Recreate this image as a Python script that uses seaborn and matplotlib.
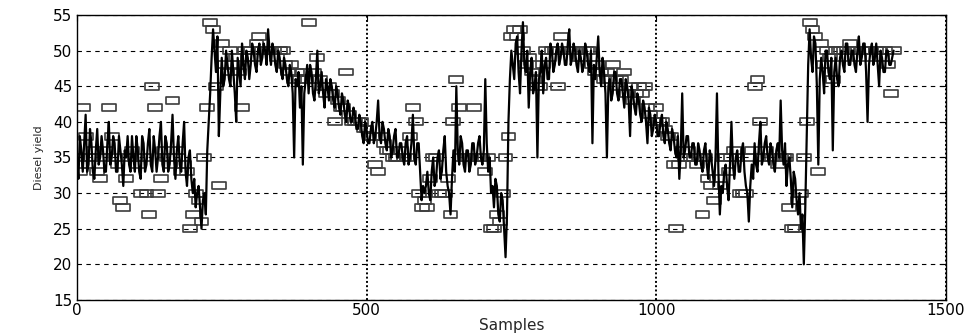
import numpy as np
import pandas as pd
import matplotlib
matplotlib.use("Agg")
import matplotlib.pyplot as plt
from matplotlib.path import Path
import seaborn as sns

# Sample step between the values
STEP = 5

# Continuous (model) diesel yield at samples 0, 5, 10, ...
line_values = [
    35, 38, 33, 41, 34, 37, 32, 39, 35, 36, 33, 40, 35, 37, 33, 36, 31, 35, 34, 38,
    33, 36, 32, 37, 34, 39, 33, 36, 35, 40, 33, 37, 34, 41, 32, 38, 33, 40, 31, 36,
    30, 28, 31, 25, 30, 36, 44, 53, 47, 38, 49, 46, 48, 45, 47, 40, 47, 51, 46, 49,
    48, 50, 47, 51, 49, 50, 53, 48, 50, 47, 49, 46, 48, 45, 47, 35, 45, 42, 34, 46,
    44, 47, 43, 50, 45, 44, 46, 43, 45, 42, 44, 41, 43, 40, 42, 40, 41, 39, 40, 37,
    39, 37, 40, 38, 43, 37, 39, 36, 38, 36, 39, 35, 37, 34, 38, 35, 41, 34, 37, 29,
    30, 33, 29, 35, 32, 36, 33, 38, 31, 27, 36, 45, 34, 37, 33, 36, 34, 37, 35, 38,
    34, 46, 33, 30, 28, 31, 26, 29, 21, 40, 50, 46, 52, 44, 54, 47, 42, 49, 45, 35,
    47, 44, 49, 46, 50, 48, 51, 49, 50, 48, 53, 49, 50, 47, 49, 48, 50, 47, 37, 46,
    52, 45, 47, 35, 46, 44, 47, 43, 46, 42, 45, 38, 44, 41, 43, 40, 42, 37, 41, 39,
    40, 38, 41, 37, 39, 36, 38, 35, 32, 44, 36, 38, 35, 37, 34, 36, 33, 37, 32, 35,
    31, 44, 27, 30, 34, 29, 40, 32, 36, 33, 37, 31, 26, 34, 37, 33, 40, 35, 38, 34,
    36, 33, 37, 43, 34, 31, 35, 28, 32, 27, 25, 20, 38, 53, 47, 51, 34, 49, 44, 50,
    46, 36, 49, 45, 50, 47, 51, 48, 50, 47, 52, 49, 51, 40, 50, 48, 51, 45, 49, 47,
    50, 48, 50,
]

# Same series at the in-between samples 2.5, 7.5, 12.5, ...
line_values_mid = [
    32, 36, 37, 33, 39, 33, 36, 34, 38, 33, 37, 34, 38, 33, 38, 34, 36, 38, 33, 35,
    38, 33, 38, 33, 37, 34, 38, 33, 38, 34, 38, 33, 37, 35, 36, 34, 37, 33, 35, 32,
    32, 30, 28, 29, 27, 40, 49, 50, 52, 44, 45, 50, 46, 50, 44, 49, 45, 48, 50, 46,
    51, 48, 50, 48, 51, 48, 50, 51, 48, 50, 47, 49, 46, 48, 44, 46, 47, 45, 44, 48,
    48, 44, 46, 44, 47, 42, 45, 46, 43, 45, 42, 44, 41, 43, 40, 42, 39, 41, 38, 40,
    37, 39, 37, 40, 38, 40, 37, 39, 35, 38, 35, 37, 35, 37, 34, 37, 35, 37, 33, 31,
    31, 30, 33, 31, 35, 32, 36, 33, 30, 32, 33, 36, 38, 34, 36, 33, 37, 34, 37, 35,
    36, 37, 35, 31, 32, 27, 30, 25, 27, 46, 48, 51, 47, 50, 48, 50, 47, 44, 47, 46,
    50, 48, 46, 51, 47, 50, 48, 51, 48, 51, 48, 51, 48, 50, 47, 51, 48, 50, 48, 49,
    47, 49, 44, 45, 43, 47, 44, 46, 44, 46, 43, 45, 42, 44, 41, 43, 40, 42, 38, 41,
    38, 40, 38, 40, 37, 39, 36, 38, 36, 35, 38, 35, 37, 34, 37, 34, 36, 34, 36, 33,
    35, 33, 31, 33, 31, 34, 34, 35, 33, 36, 33, 30, 31, 32, 34, 37, 34, 37, 35, 37,
    34, 36, 35, 36, 37, 34, 32, 33, 29, 30, 27, 28, 48, 49, 52, 45, 46, 47, 50, 47,
    49, 47, 46, 49, 48, 51, 48, 50, 48, 50, 48, 51, 47, 48, 51, 49, 48, 50, 47, 50,
    48, 49,
]

# Measured (integer) diesel yield at samples 0, 5, 10, ...
marker_values = [
    35, 33, 42, 38, 34, 35, 36, 33, 32, 35, 36, 42, 38, 35, 34, 29, 28, 32, 35, 36,
    35, 34, 30, 35, 30, 27, 45, 42, 30, 32, 36, 35, 34, 43, 35, 36, 33, 34, 33, 25,
    27, 30, 29, 26, 35, 42, 54, 53, 45, 31, 51, 48, 47, 50, 48, 49, 47, 42, 50, 49,
    50, 49, 51, 52, 50, 50, 50, 50, 50, 49, 50, 50, 48, 47, 48, 46, 47, 46, 47, 46,
    54, 46, 47, 49, 46, 45, 44, 45, 44, 40, 43, 42, 42, 47, 41, 40, 40, 40, 40, 39,
    39, 38, 38, 34, 33, 38, 37, 36, 36, 35, 35, 35, 36, 35, 35, 38, 42, 40, 30, 28,
    29, 28, 32, 35, 35, 30, 30, 30, 32, 27, 40, 46, 42, 35, 35, 35, 35, 42, 35, 35,
    35, 33, 35, 25, 25, 27, 26, 30, 35, 38, 52, 53, 52, 53, 50, 48, 49, 47, 46, 45,
    45, 48, 50, 49, 50, 50, 45, 52, 50, 50, 50, 50, 50, 49, 49, 50, 50, 50, 48, 47,
    48, 47, 46, 47, 46, 48, 46, 45, 46, 47, 44, 45, 43, 44, 45, 44, 45, 42, 41, 40,
    42, 40, 40, 39, 38, 38, 34, 25, 34, 36, 35, 36, 35, 35, 34, 35, 27, 35, 32, 31,
    29, 32, 31, 35, 35, 33, 35, 36, 35, 30, 30, 30, 35, 36, 45, 46, 40, 35, 36, 35,
    35, 35, 34, 35, 35, 35, 28, 25, 25, 29, 30, 35, 40, 54, 53, 52, 33, 51, 48, 50,
    49, 46, 50, 50, 49, 50, 50, 51, 50, 50, 49, 50, 50, 50, 50, 49, 50, 50, 49, 50,
    48, 44, 50,
]

x_ticks = [0, 500, 1000, 1500]
y_ticks = [15, 20, 25, 30, 35, 40, 45, 50, 55]

line_df = pd.concat([
    pd.DataFrame({"Samples": np.arange(len(line_values)) * STEP,
                  "yield": line_values}),
    pd.DataFrame({"Samples": np.arange(len(line_values_mid)) * STEP + STEP / 2,
                  "yield": line_values_mid}),
]).sort_values("Samples")
marker_df = pd.DataFrame({"Samples": np.arange(len(marker_values)) * STEP,
                          "yield": marker_values})

sns.set_style("white")
plt.rcParams["font.family"] = ["DejaVu Sans"]

fig = plt.figure(figsize=(9.68, 3.34), dpi=100)
ax = fig.add_axes([0.0795, 0.102, 0.8975, 0.853])

# wide hollow rectangle marker
rect = Path([(-1, -0.5), (1, -0.5), (1, 0.5), (-1, 0.5), (-1, -0.5)],
            [Path.MOVETO, Path.LINETO, Path.LINETO, Path.LINETO, Path.CLOSEPOLY])

sns.scatterplot(data=marker_df, x="Samples", y="yield", ax=ax, marker=rect,
                s=100, facecolor="none", edgecolor="#3c3c3c", linewidth=1.2,
                zorder=2)
sns.lineplot(data=line_df, x="Samples", y="yield", ax=ax, color="black",
             linewidth=1.6, sort=False, estimator=None, zorder=3)

ax.set_xlim(0, 1500)
ax.set_ylim(15, 55)
ax.set_xticks(x_ticks)
ax.set_yticks(y_ticks)

ax.yaxis.grid(True, color="black", linestyle=(0, (4, 4)), linewidth=0.8)
ax.xaxis.grid(True, color="black", linestyle=(0, (1, 1.2)), linewidth=1.4)
ax.set_axisbelow(True)

for sp in ax.spines.values():
    sp.set_visible(True)
    sp.set_color("black")
    sp.set_linewidth(1.0)

ax.tick_params(axis="both", direction="in", length=4, width=0.8,
               labelsize=11, top=True, right=True, colors="black")
ax.tick_params(axis="x", pad=2)

ax.set_xlabel("Samples", fontsize=11, labelpad=0)
ax.set_ylabel("Diesel yield", fontsize=8, labelpad=6)

fig.savefig("out.png", dpi=100)
